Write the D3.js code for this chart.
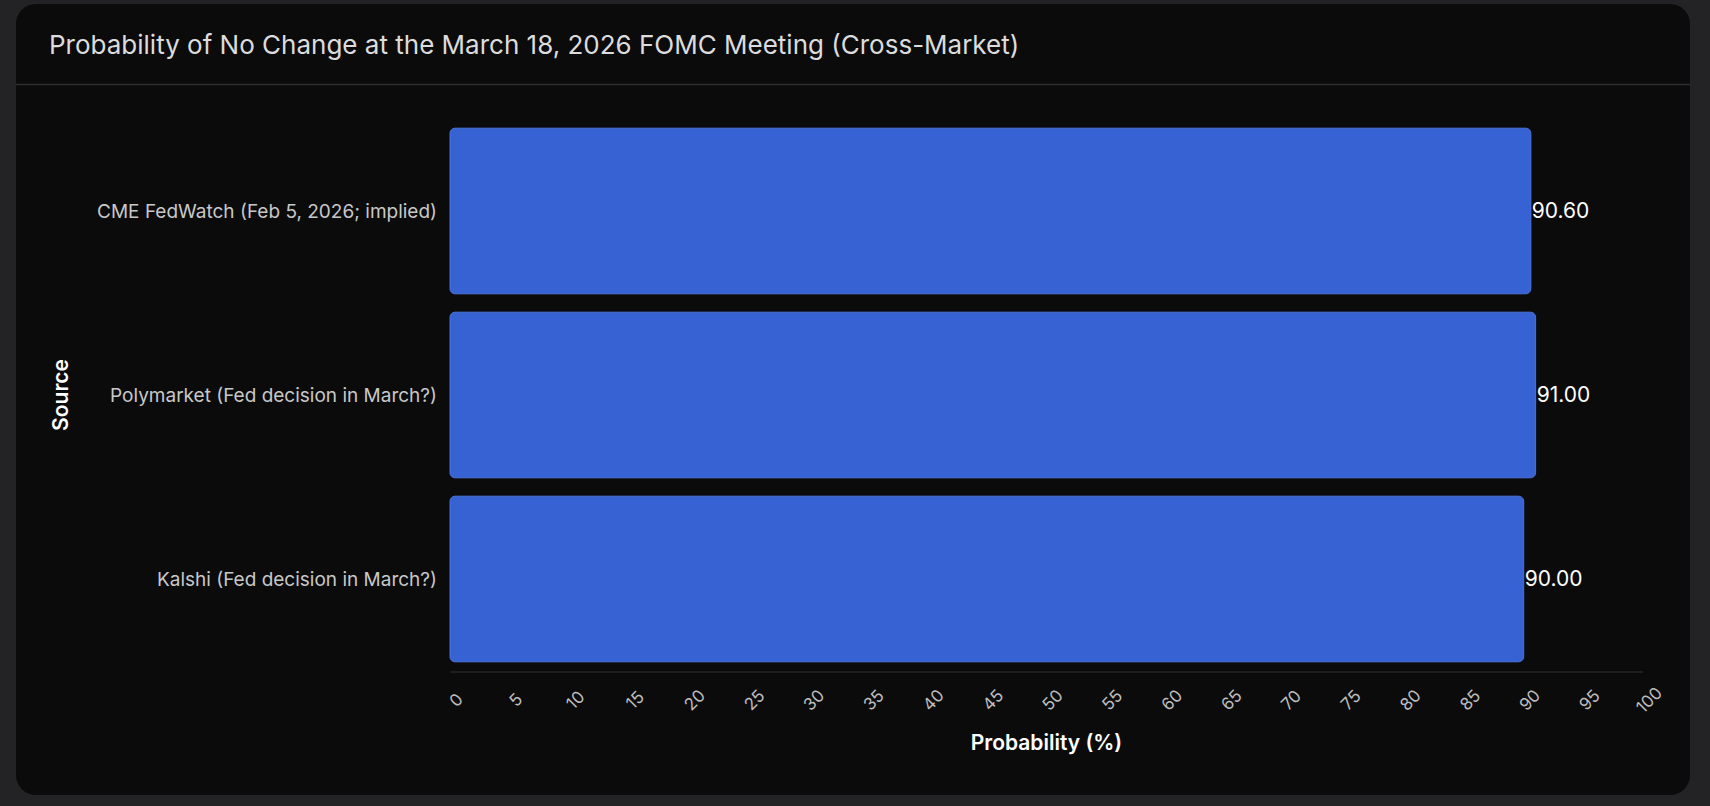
<!DOCTYPE html>
<html><head><meta charset="utf-8">
<script src="https://cdn.jsdelivr.net/npm/d3@7"></script>
<style>
body{margin:0;background:#232325;font-family:Inter,"Noto Sans",sans-serif;}
</style></head><body>
<svg id="chart" width="1710" height="806"></svg>
<script>
var title = "Probability of No Change at the March 18, 2026 FOMC Meeting (Cross-Market)";
var sources = ["CME FedWatch (Feb 5, 2026; implied)", "Polymarket (Fed decision in March?)", "Kalshi (Fed decision in March?)"];
var probs = [90.6, 91.0, 90.0];
var ticks = d3.range(0, 101, 5);

var svg = d3.select("#chart");
svg.append("rect").attr("x", 16).attr("y", 4).attr("width", 1674).attr("height", 791)
  .attr("rx", 20).attr("fill", "#0b0b0b");
svg.append("text").attr("x", 49).attr("y", 54).attr("fill", "#dcdcdc")
  .attr("font-size", 26).text(title);
svg.append("line").attr("x1", 16).attr("x2", 1690).attr("y1", 84.5).attr("y2", 84.5)
  .attr("stroke", "#2c2c2c").attr("stroke-width", 1.5);

var x = d3.scaleLinear().domain([0, 100]).range([450, 1643]);
var y = d3.scaleBand().domain(sources).range([119, 671]).paddingInner(0.1).paddingOuter(0.05);

var g = svg.append("g");
g.selectAll("rect.bar").data(sources).join("rect").attr("class", "bar")
  .attr("x", x(0)).attr("y", d => y(d))
  .attr("width", (d, i) => x(probs[i]) - x(0)).attr("height", y.bandwidth())
  .attr("rx", 5).attr("fill", "#3762d3").attr("stroke", "#4d74dc").attr("stroke-width", 1);

g.selectAll("text.val").data(sources).join("text").attr("class", "val")
  .attr("x", (d, i) => x(probs[i]) + 1).attr("y", d => y(d) + y.bandwidth() / 2)
  .attr("dy", "0.35em").attr("fill", "#fff").attr("font-size", 21)
  .text((d, i) => probs[i].toFixed(2));

g.selectAll("text.cat").data(sources).join("text").attr("class", "cat")
  .attr("x", 437).attr("y", d => y(d) + y.bandwidth() / 2)
  .attr("dy", "0.35em").attr("text-anchor", "end").attr("fill", "#c8c8c8").attr("font-size", 19)
  .text(d => d);

svg.append("line").attr("x1", x(0)).attr("x2", x(100)).attr("y1", 672).attr("y2", 672)
  .attr("stroke", "#262626").attr("stroke-width", 1.5);

g.selectAll("text.tick").data(ticks).join("text").attr("class", "tick")
  .attr("transform", d => `translate(${x(d) + 6},${700}) rotate(-45)`)
  .attr("text-anchor", "middle").attr("dy", "0.35em")
  .attr("fill", "#bdbdbd").attr("font-size", 17).text(d => d);

svg.append("text").attr("x", (x(0) + x(100)) / 2).attr("y", 750).attr("text-anchor", "middle")
  .attr("fill", "#fff").attr("font-size", 21).attr("font-weight", 600).text("Probability (%)");
svg.append("text").attr("transform", "translate(68,395) rotate(-90)").attr("text-anchor", "middle")
  .attr("fill", "#fff").attr("font-size", 21).attr("font-weight", 600).text("Source");
</script>
</body></html>
